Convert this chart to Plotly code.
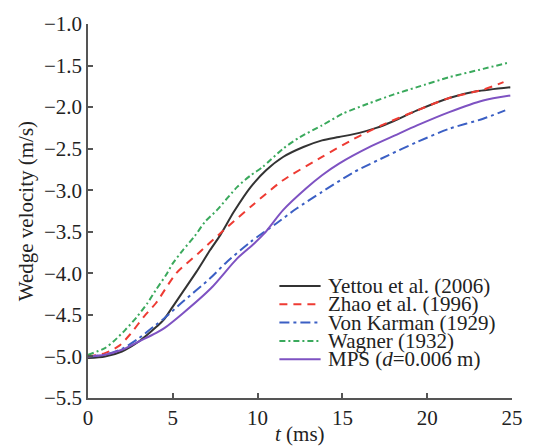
import plotly.graph_objects as go

# ---- data ----
t_yettou = [0, 1, 2, 3, 4, 4.5, 5, 5.6, 6.4, 7.2, 7.8, 8.6, 9.6, 10.5, 11.5, 12.7, 13.8, 14.8, 16.0, 17.0, 18.0, 19.4, 21.3, 22.9, 24.9]
v_yettou = [-5.02, -5.00, -4.94, -4.82, -4.65, -4.55, -4.40, -4.22, -3.98, -3.72, -3.54, -3.26, -2.96, -2.76, -2.60, -2.48, -2.40, -2.36, -2.31, -2.25, -2.17, -2.04, -1.89, -1.81, -1.76]

t_zhao = [0, 1, 1.85, 2.5, 3.3, 4.0, 5.2, 6.5, 7.9, 9.7, 11.5, 13.8, 15.7, 17.3, 19.4, 21.3, 23.3, 24.5]
v_zhao = [-5.0, -4.96, -4.87, -4.73, -4.52, -4.36, -4.0, -3.76, -3.50, -3.18, -2.88, -2.60, -2.38, -2.22, -2.04, -1.89, -1.79, -1.70]

t_karman = [0, 1, 2, 3, 4, 4.5, 5.6, 7.2, 8.2, 9.6, 11.1, 12.3, 13.8, 15.7, 17.7, 19.4, 21.3, 23.3, 24.6]
v_karman = [-5.0, -4.98, -4.91, -4.78, -4.62, -4.54, -4.34, -4.06, -3.86, -3.62, -3.40, -3.22, -3.02, -2.78, -2.58, -2.42, -2.26, -2.14, -2.04]

t_wagner = [0, 1.0, 1.5, 2.2, 2.9, 3.5, 4.0, 4.6, 5.0, 5.6, 6.3, 6.9, 7.6, 8.8, 9.6, 10.3, 11.5, 12.5, 13.8, 15.0, 16.5, 18.0, 19.4, 21.3, 23.3, 24.7]
v_wagner = [-4.98, -4.90, -4.82, -4.68, -4.52, -4.36, -4.20, -4.02, -3.88, -3.72, -3.55, -3.38, -3.24, -2.96, -2.82, -2.72, -2.50, -2.36, -2.22, -2.08, -1.96, -1.85, -1.76, -1.64, -1.54, -1.47]

t_mps = [0, 1, 2, 3, 4, 4.5, 5.6, 7.25, 8.8, 9.8, 10.4, 11.5, 12.85, 13.8, 14.8, 16.7, 18.1, 19.4, 21.3, 23.3, 24.9]
v_mps = [-5.0, -4.98, -4.92, -4.82, -4.72, -4.66, -4.48, -4.18, -3.82, -3.64, -3.52, -3.24, -2.98, -2.82, -2.68, -2.47, -2.34, -2.22, -2.06, -1.92, -1.86]

names = ["Yettou et al. (2006)", "Zhao et al. (1996)", "Von Karman (1929)",
         "Wagner (1932)", "MPS (<i>d</i>=0.006 m)"]
colors = ["#333333", "#ee3b33", "#3b5fc4", "#3aa95c", "#7e52c2"]
dashes = ["solid", "8px,6px", "10px,4px,3px,4px", "6px,3px,2px,3px", "solid"]

x_ticks = [0, 5, 10, 15, 20, 25]
y_ticks = [-5.5, -5.0, -4.5, -4.0, -3.5, -3.0, -2.5, -2.0, -1.5, -1.0]

series = [(t_yettou, v_yettou), (t_zhao, v_zhao), (t_karman, v_karman),
          (t_wagner, v_wagner), (t_mps, v_mps)]

FONT = "Liberation Serif, Times New Roman, serif"
FS = 21
TXT = "#222222"
AX = "#555555"

fig = go.Figure()
for (t, v), name, c, d in zip(series, names, colors, dashes):
    fig.add_trace(go.Scatter(x=t, y=v, mode="lines", name=name,
                             line=dict(color=c, width=2, dash=d, shape="spline", smoothing=0.7),
                             showlegend=False))

# custom legend (tight row spacing like the reference)
W, H = 535, 447
ml, mr, mt, mb = 88, 15, 21, 49
pw, ph = W - ml - mr, H - mt - mb
rows_py = [285, 303.5, 322, 340.5, 359]
shapes = []
annotations = []
for py, name, c, d in zip(rows_py, names, colors, dashes):
    yp = (H - mb - py) / ph
    shapes.append(dict(type="line", xref="paper", yref="paper",
                       x0=(283 - ml) / pw, x1=(325 - ml) / pw, y0=yp, y1=yp,
                       line=dict(color=c, width=2, dash=d)))
    annotations.append(dict(xref="paper", yref="paper", x=(330 - ml) / pw, y=yp,
                            xanchor="left", yanchor="middle", showarrow=False,
                            text=name, font=dict(family=FONT, size=FS, color=TXT)))

annotations.append(dict(xref="paper", yref="paper", x=(25 - ml) / pw, y=0.5,
                        textangle=-90, showarrow=False, xanchor="center", yanchor="middle",
                        text="Wedge velocity (m/s)", font=dict(family=FONT, size=FS, color=TXT)))
annotations.append(dict(xref="paper", yref="paper", x=0.5, y=(H - mb - 434) / ph,
                        showarrow=False, xanchor="center", yanchor="middle",
                        text="<i>t</i> (ms)", font=dict(family=FONT, size=FS, color=TXT)))

fig.update_layout(
    width=W, height=H,
    margin=dict(l=ml, r=mr, t=mt, b=mb),
    paper_bgcolor="white", plot_bgcolor="white",
    shapes=shapes, annotations=annotations,
    font=dict(family=FONT, size=FS, color=TXT),
)
fig.update_xaxes(range=[0, 25], tickvals=x_ticks, ticks="inside", ticklen=5,
                 tickcolor=AX, tickwidth=1.5, showline=True, linecolor=AX, linewidth=1.5,
                 showgrid=False, zeroline=False, tickfont=dict(family=FONT, size=FS, color=TXT))
fig.update_yaxes(range=[-5.5, -1.0], tickvals=y_ticks, tickformat=".1f", ticks="inside",
                 ticklen=5, tickcolor=AX, tickwidth=1.5, showline=True, linecolor=AX,
                 linewidth=1.5, showgrid=False, zeroline=False,
                 tickfont=dict(family=FONT, size=FS, color=TXT))

fig.write_html("out.html")
